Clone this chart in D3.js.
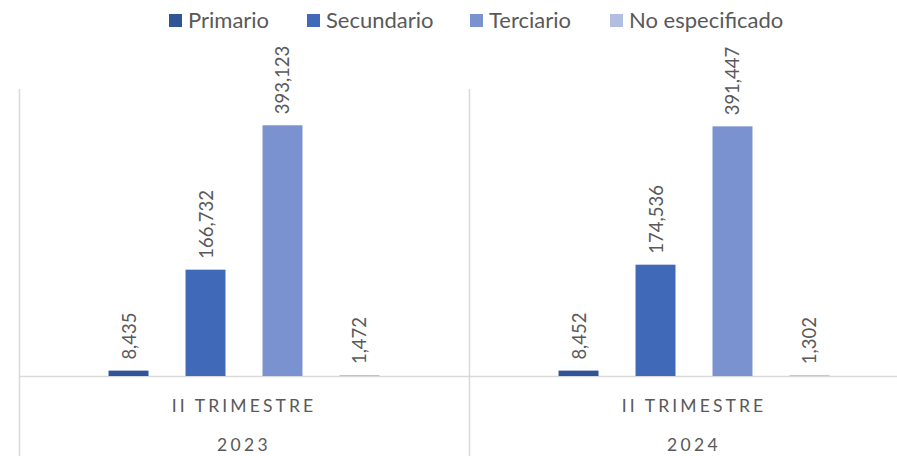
<!DOCTYPE html>
<html>
<head>
<meta charset="utf-8">
<script src="https://cdn.jsdelivr.net/npm/d3@7"></script>
<style>
  html, body { margin: 0; padding: 0; background: #ffffff; }
  svg { display: block; }
  text { font-family: Lato, "Open Sans", sans-serif; fill: #595959; }
</style>
</head>
<body>
<svg id="chart" width="897" height="456"></svg>
<script>
const years = ["2023", "2024"];
const periodLabels = ["II TRIMESTRE", "II TRIMESTRE"];
const seriesNames = ["Primario", "Secundario", "Terciario", "No especificado"];
const seriesColors = ["#2F5597", "#4069B8", "#7A92D0", "#B2BEE1"];
const values2023 = [8435, 166732, 393123, 1472];
const values2024 = [8452, 174536, 391447, 1302];
const valueTable = [values2023, values2024];

(function () {
const svg = d3.select("#chart");
const W = 897, H = 456;
const plotLeft = 19, plotRight = 919, base = 376, plotTop = 89;

const x0 = d3.scaleBand().domain(years).range([plotLeft, plotRight]).padding(0);
const x1 = d3.scaleBand().domain(seriesNames).range([0, x0.bandwidth()])
  .paddingInner(0.481).paddingOuter(1.163);
const y = d3.scaleLinear().domain([0, 450000]).range([base, plotTop]);
const color = d3.scaleOrdinal().domain(seriesNames).range(seriesColors);
const fmt = d3.format(",");

const axisColor = "#D9D9D9";
svg.append("line").attr("x1", plotLeft).attr("x2", W).attr("y1", base + 0.5).attr("y2", base + 0.5)
  .attr("stroke", axisColor).attr("stroke-width", 1.5);
const bounds = [plotLeft, x0("2024"), plotRight];
bounds.forEach(b => {
  svg.append("line").attr("x1", b + 0.5).attr("x2", b + 0.5).attr("y1", plotTop).attr("y2", H)
    .attr("stroke", axisColor).attr("stroke-width", 1.5);
});

years.forEach((yr, gi) => {
  const g = svg.append("g").attr("transform", `translate(${x0(yr)},0)`);
  const data = seriesNames.map((s, i) => ({ s, v: valueTable[gi][i] }));
  g.selectAll("rect").data(data).enter().append("rect")
    .attr("x", d => x1(d.s))
    .attr("y", d => y(d.v))
    .attr("width", x1.bandwidth())
    .attr("height", d => base - y(d.v))
    .attr("fill", d => color(d.s));
  g.selectAll("text.lbl").data(data).enter().append("text")
    .attr("class", "lbl")
    .attr("transform", d => `translate(${x1(d.s) + x1.bandwidth() / 2 + 7},${y(d.v) - 11}) rotate(-90)`)
    .attr("font-size", 18.5)
    .attr("text-anchor", "start")
    .text(d => fmt(d.v));
  g.append("text").attr("x", x0.bandwidth() / 2).attr("y", 412)
    .attr("text-anchor", "middle").attr("font-size", 17.5).attr("letter-spacing", 3.1)
    .text(periodLabels[gi]);
  g.append("text").attr("x", x0.bandwidth() / 2).attr("y", 451)
    .attr("text-anchor", "middle").attr("font-size", 17.5).attr("letter-spacing", 3.3)
    .text(yr);
});

const legendX = [169, 307, 470, 610];
const lg = svg.append("g");
seriesNames.forEach((s, i) => {
  lg.append("rect").attr("x", legendX[i]).attr("y", 14).attr("width", 13).attr("height", 13)
    .attr("fill", color(s));
  lg.append("text").attr("x", legendX[i] + 19).attr("y", 28).attr("font-size", 22).text(s);
});
})();
</script>
</body>
</html>
